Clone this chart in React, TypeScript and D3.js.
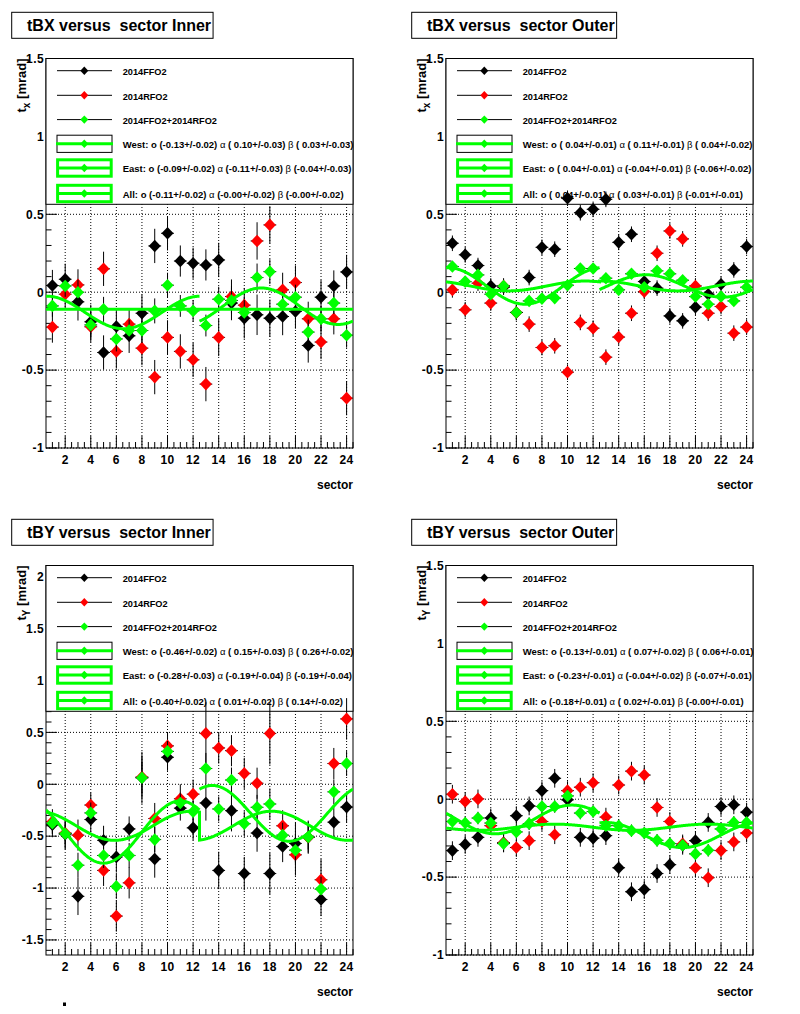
import React, { useMemo } from 'react'
import * as d3 from 'd3'

// sector numbers along the x axis
const sectors = [1, 2, 3, 4, 5, 6, 7, 8, 9, 10, 11, 12, 13, 14, 15, 16, 17, 18, 19, 20, 21, 22, 23, 24]

const seriesNames = ['2014FFO2', '2014RFO2', '2014FFO2+2014RFO2']

// ---- tBX Inner ----
const innerX_ffo = [0.043, 0.083, -0.062, -0.19, -0.387, -0.22, -0.28, -0.135, 0.297, 0.378, 0.2, 0.186, 0.175, 0.207, -0.07, -0.167, -0.145, -0.167, -0.156, -0.124, -0.342, -0.032, 0.04, 0.13]
const innerX_rfo = [-0.224, -0.013, 0.047, -0.222, 0.15, -0.38, -0.205, -0.359, -0.545, -0.29, -0.38, -0.434, -0.59, -0.29, -0.028, -0.083, 0.329, 0.432, 0.015, 0.062, -0.171, -0.32, -0.171, -0.68]
const innerX_sum = [-0.088, 0.04, 0.0, -0.21, -0.11, -0.3, -0.246, -0.246, -0.12, 0.045, -0.088, -0.12, -0.214, -0.045, -0.053, -0.13, 0.094, 0.132, -0.077, -0.032, -0.256, -0.171, -0.07, -0.276]
const innerX_ffoErr = [0.1, 0.1, 0.12, 0.11, 0.11, 0.11, 0.11, 0.12, 0.11, 0.11, 0.1, 0.1, 0.1, 0.11, 0.11, 0.13, 0.13, 0.12, 0.12, 0.11, 0.11, 0.11, 0.1, 0.11]
const innerX_rfoErr = [0.1, 0.1, 0.1, 0.1, 0.11, 0.11, 0.1, 0.11, 0.11, 0.11, 0.11, 0.11, 0.11, 0.12, 0.11, 0.11, 0.12, 0.12, 0.11, 0.11, 0.11, 0.11, 0.1, 0.11]
const innerX_sumErr = [0.07, 0.07, 0.08, 0.07, 0.08, 0.08, 0.07, 0.08, 0.08, 0.08, 0.07, 0.07, 0.07, 0.08, 0.08, 0.08, 0.09, 0.08, 0.08, 0.08, 0.08, 0.08, 0.07, 0.08]
// fit parameters [o, alpha, beta] and their errors (from the legend)
const innerX_west = [-0.13, 0.10, 0.03]
const innerX_westErr = [0.02, 0.03, 0.03]
const innerX_east = [-0.09, -0.11, -0.04]
const innerX_eastErr = [0.02, 0.03, 0.03]
const innerX_all = [-0.11, -0, -0]
const innerX_allErr = [0.02, 0.02, 0.02]

// ---- tBX Outer ----
const outerX_ffo = [0.314, 0.24, 0.171, 0.04, 0.032, -0.13, 0.094, 0.288, 0.276, 0.603, 0.51, 0.532, 0.596, 0.32, 0.372, 0.068, 0.026, -0.152, -0.184, -0.096, -0.013, 0.051, 0.143, 0.293]
const outerX_rfo = [0.015, -0.113, 0.058, -0.07, 0.04, -0.13, -0.205, -0.355, -0.344, -0.513, -0.194, -0.231, -0.417, -0.288, -0.135, 0.004, 0.25, 0.393, 0.342, 0.04, -0.135, -0.092, -0.263, -0.224]
const outerX_sum = [0.165, 0.068, 0.111, -0.013, 0.04, -0.13, -0.056, -0.041, -0.038, 0.045, 0.152, 0.152, 0.09, 0.015, 0.118, 0.032, 0.137, 0.118, 0.077, -0.028, -0.077, -0.028, -0.056, 0.032]
const outerX_ffoErr = [0.05, 0.05, 0.05, 0.05, 0.05, 0.05, 0.05, 0.05, 0.05, 0.05, 0.05, 0.05, 0.05, 0.05, 0.05, 0.05, 0.05, 0.05, 0.05, 0.05, 0.05, 0.05, 0.05, 0.05]
const outerX_rfoErr = [0.05, 0.05, 0.05, 0.05, 0.05, 0.05, 0.05, 0.05, 0.05, 0.05, 0.05, 0.05, 0.05, 0.05, 0.05, 0.05, 0.05, 0.05, 0.05, 0.05, 0.05, 0.05, 0.05, 0.05]
const outerX_sumErr = [0.03, 0.03, 0.03, 0.03, 0.03, 0.03, 0.03, 0.03, 0.03, 0.03, 0.03, 0.03, 0.03, 0.03, 0.03, 0.03, 0.03, 0.03, 0.03, 0.03, 0.03, 0.03, 0.03, 0.03]
const outerX_west = [0.04, 0.11, 0.04]
const outerX_westErr = [0.01, 0.01, 0.02]
const outerX_east = [0.04, -0.04, -0.06]
const outerX_eastErr = [0.01, 0.01, 0.02]
const outerX_all = [0.04, 0.03, -0.01]
const outerX_allErr = [0.01, 0.01, 0.01]

// ---- tBY Inner ----
const innerY_ffo = [-0.39, -0.48, -1.08, -0.34, -0.54, -0.7, -0.43, 0.063, -0.72, 0.26, -0.23, -0.42, -0.18, -0.83, -0.254, -0.86, -0.47, -0.86, -0.6, -0.57, -0.51, -1.11, -0.365, -0.22]
const innerY_rfo = [-0.36, -0.47, -0.49, -0.2, -0.83, -1.27, -0.95, 0.07, -0.33, 0.37, -0.14, -0.095, 0.49, 0.35, 0.324, 0.105, 0.01, 0.49, -0.4, -0.68, -0.51, -0.92, 0.2, 0.63]
const innerY_sum = [-0.375, -0.476, -0.78, -0.276, -0.686, -0.984, -0.686, 0.063, -0.533, 0.317, -0.18, -0.264, 0.152, -0.238, 0.041, -0.38, -0.222, -0.19, -0.49, -0.635, -0.508, -1.01, -0.073, 0.2]
const innerY_ffoErr = [0.12, 0.15, 0.18, 0.12, 0.14, 0.15, 0.12, 0.25, 0.18, 0.13, 0.12, 0.12, 0.17, 0.18, 0.2, 0.16, 0.18, 0.2, 0.15, 0.2, 0.16, 0.16, 0.15, 0.15]
const innerY_rfoErr = [0.12, 0.15, 0.15, 0.12, 0.15, 0.15, 0.15, 0.2, 0.15, 0.13, 0.14, 0.14, 0.3, 0.15, 0.15, 0.15, 0.15, 0.3, 0.15, 0.2, 0.15, 0.2, 0.15, 0.2]
const innerY_sumErr = [0.1, 0.1, 0.12, 0.1, 0.12, 0.12, 0.12, 0.15, 0.12, 0.1, 0.1, 0.1, 0.15, 0.12, 0.12, 0.12, 0.12, 0.15, 0.12, 0.12, 0.12, 0.12, 0.12, 0.12]
const innerY_west = [-0.46, 0.15, 0.26]
const innerY_westErr = [0.02, 0.03, 0.02]
const innerY_east = [-0.28, -0.19, -0.19]
const innerY_eastErr = [0.03, 0.04, 0.04]
const innerY_all = [-0.40, 0.01, 0.14]
const innerY_allErr = [0.02, 0.02, 0.02]

// ---- tBY Outer ----
const outerY_ffo = [-0.33, -0.29, -0.245, -0.12, -0.28, -0.106, -0.043, 0.055, 0.134, -0.004, -0.245, -0.25, -0.234, -0.44, -0.594, -0.58, -0.477, -0.42, -0.296, -0.266, -0.149, -0.047, -0.036, -0.083]
const outerY_rfo = [0.032, -0.015, 0.002, -0.17, -0.28, -0.31, -0.266, -0.143, -0.228, 0.055, 0.077, 0.106, -0.115, 0.091, 0.18, 0.155, -0.053, -0.143, -0.287, -0.44, -0.504, -0.33, -0.274, -0.217]
const outerY_sum = [-0.143, -0.153, -0.121, -0.153, -0.285, -0.21, -0.157, -0.047, -0.047, 0.021, -0.089, -0.079, -0.17, -0.17, -0.202, -0.217, -0.264, -0.285, -0.296, -0.351, -0.328, -0.191, -0.149, -0.149]
const outerY_ffoErr = [0.06, 0.06, 0.06, 0.06, 0.06, 0.06, 0.06, 0.06, 0.06, 0.06, 0.06, 0.06, 0.06, 0.06, 0.06, 0.06, 0.06, 0.06, 0.06, 0.06, 0.06, 0.06, 0.06, 0.06]
const outerY_rfoErr = [0.06, 0.06, 0.06, 0.06, 0.06, 0.06, 0.06, 0.06, 0.06, 0.06, 0.06, 0.06, 0.06, 0.06, 0.06, 0.06, 0.06, 0.06, 0.06, 0.06, 0.06, 0.06, 0.06, 0.06]
const outerY_sumErr = [0.04, 0.04, 0.04, 0.04, 0.04, 0.04, 0.04, 0.04, 0.04, 0.04, 0.04, 0.04, 0.04, 0.04, 0.04, 0.04, 0.04, 0.04, 0.04, 0.04, 0.04, 0.04, 0.04, 0.04]
const outerY_west = [-0.13, 0.07, 0.06]
const outerY_westErr = [0.01, 0.02, 0.01]
const outerY_east = [-0.23, -0.04, -0.07]
const outerY_eastErr = [0.01, 0.02, 0.01]
const outerY_all = [-0.18, 0.02, -0]
const outerY_allErr = [0.01, 0.01, 0.01]

const FONT = "'Liberation Sans', Arial, Helvetica, sans-serif"
const GREEN = '#00ff00'
const RED = '#ff0000'

// frame inside a 400x507 pad
const FL = 46
const FR = 353
const FT = 58.5
const FB = 448

interface PanelProps {
  id: string
  x0: number
  y0: number
  title: string
  sub: string
  yDomain: [number, number]
  ffo: number[]
  rfo: number[]
  sum: number[]
  ffoErr: number[]
  rfoErr: number[]
  sumErr: number[]
  west: number[]
  westErr: number[]
  east: number[]
  eastErr: number[]
  all: number[]
  allErr: number[]
  phase: number
}

const fmt = (v: number, e: number) => {
  const neg = v < 0 || Object.is(v, -0)
  return `(${neg ? '-' : ' '}${Math.abs(v).toFixed(2)}+/-${e.toFixed(2)})`
}

// fitted function o + a cos(psi) + b sin(psi), psi follows the sector angle
const fitAt = (x: number, p: number[], side: 'W' | 'E', phase: number) => {
  const deg = side === 'W' ? 30 * x + phase : -30 * x - phase
  const r = (deg * Math.PI) / 180
  return p[0] + p[1] * Math.cos(r) + p[2] * Math.sin(r)
}

const measure = (text: string, font: string) => {
  const c = document.createElement('canvas').getContext('2d')
  if (!c) return text.length * 8
  c.font = font
  return c.measureText(text).width
}

const diamond = (x: number, y: number, w: number, h: number) =>
  `M${x},${y - h}L${x + w},${y}L${x},${y + h}L${x - w},${y}Z`

const Panel: React.FC<PanelProps> = (p) => {
  const x = d3.scaleLinear().domain([0.5, 24.5]).range([FL, FR])
  const y = d3.scaleLinear().domain(p.yDomain).range([FB, FT])

  const titleW = useMemo(() => measure(p.title, `bold 16px ${FONT}`), [p.title])

  const yMajor = d3.range(Math.ceil(p.yDomain[0] * 2) / 2, p.yDomain[1] + 1e-6, 0.5)
  const yMinor = d3.range(Math.ceil(p.yDomain[0] * 10 - 1e-6) / 10, p.yDomain[1] + 1e-6, 0.1)
  const xMajor = d3.range(2, 25, 2)
  const xMinor = d3.range(1, 24.6, 0.5)

  const line = d3.line<[number, number]>().x(d => x(d[0])).y(d => y(d[1]))
  const westPts = d3.range(0.5, 12.5001, 0.05).map(v => [v, fitAt(v, p.west, 'W', p.phase)] as [number, number])
  const eastPts = d3.range(12.5, 24.5001, 0.05).map(v => [v, fitAt(v, p.east, 'E', p.phase)] as [number, number])
  const allPts = [
    ...d3.range(0.5, 12.5001, 0.05).map(v => [v, fitAt(v, p.all, 'W', p.phase)] as [number, number]),
    ...d3.range(12.5, 24.5001, 0.05).map(v => [v, fitAt(v, p.all, 'E', p.phase)] as [number, number])
  ]

  const graphs = [
    { vals: p.ffo, errs: p.ffoErr, color: '#000000' },
    { vals: p.rfo, errs: p.rfoErr, color: RED },
    { vals: p.sum, errs: p.sumErr, color: GREEN }
  ]

  const rowY = [70.7, 95.3, 119.6, 143.8, 168, 193.5]
  const fitRows = [
    { label: 'West', v: p.west, e: p.westErr },
    { label: 'East', v: p.east, e: p.eastErr },
    { label: 'All', v: p.all, e: p.allErr }
  ]
  const lab = (v: number) => String(Math.round(v * 10) / 10)

  return (
    <g transform={`translate(${p.x0},${p.y0})`} fontFamily={FONT}>
      <defs>
        <clipPath id={`clip-${p.id}`}>
          <rect x={FL} y={FT} width={FR - FL} height={FB - FT} />
        </clipPath>
      </defs>
      {/* title box */}
      <rect x={11.7} y={12.3} width={27 - 11.7 + titleW + 2} height={26} fill="#fff" stroke="#000" strokeWidth={1} />
      <text x={27} y={30.5} fontSize={16} fontWeight="bold" style={{ whiteSpace: 'pre' }}>{p.title}</text>

      {/* frame background and grid */}
      <rect x={FL} y={FT} width={FR - FL} height={FB - FT} fill="#fff" />
      {xMajor.map(v => (
        <line key={`gx${v}`} x1={x(v)} x2={x(v)} y1={FB} y2={FT} stroke="#000" strokeDasharray="1 2" strokeWidth={1} />
      ))}
      {yMajor.map(v => (
        <line key={`gy${v}`} x1={FL} x2={FR} y1={y(v)} y2={y(v)} stroke="#000" strokeDasharray="1 2" strokeWidth={1} />
      ))}
      {/* ticks */}
      {xMinor.map(v => (
        <line key={`tx${v}`} x1={x(v)} x2={x(v)} y1={FB} y2={FB - (v % 2 === 0 ? 12 : 6)} stroke="#000" />
      ))}
      {yMinor.map(v => {
        const major = Math.abs(v * 2 - Math.round(v * 2)) < 1e-6
        return <line key={`ty${v}`} x1={FL} x2={FL + (major ? 11 : 5.5)} y1={y(v)} y2={y(v)} stroke="#000" />
      })}
      <rect x={FL} y={FT} width={FR - FL} height={FB - FT} fill="none" stroke="#000" strokeWidth={1} />

      {/* tick labels */}
      {xMajor.map(v => (
        <text key={`lx${v}`} x={x(v)} y={FB + 16} fontSize={12} fontWeight="bold" textAnchor="middle" letterSpacing={0.4}>{v}</text>
      ))}
      {yMajor.map(v => (
        <text key={`ly${v}`} x={44} y={y(v) + 4.3} fontSize={12} fontWeight="bold" textAnchor="end" letterSpacing={0.4}>{lab(v)}</text>
      ))}
      <text x={FR} y={489} fontSize={12} fontWeight="bold" textAnchor="end">sector</text>
      <text transform={`translate(25.5,${FT}) rotate(-90)`} fontSize={13} fontWeight="bold" textAnchor="end" style={{ whiteSpace: 'pre' }}>
        t<tspan dy={4.5} fontSize={10}>{p.sub}</tspan><tspan dy={-4.5}> [mrad]</tspan>
      </text>

      {/* legend */}
      <rect x={FL} y={FT} width={FR - FL} height={204.3 - FT} fill="#fff" stroke="#000" strokeWidth={1} />
      {seriesNames.map((name, i) => (
        <g key={name}>
          <line x1={57} x2={112} y1={rowY[i]} y2={rowY[i]} stroke="#000" />
          <path d={diamond(84.3, rowY[i], 4, 4.2)} fill={graphs[i].color} />
          <text x={122.7} y={rowY[i] + 4.4} fontSize={9.2} fontWeight="bold">{name}</text>
        </g>
      ))}
      {fitRows.map((r, i) => {
        const cy = rowY[3 + i]
        return (
          <g key={r.label}>
            {i === 0 ? (
              <>
                <rect x={57} y={cy - 8.6} width={55} height={17.2} fill="none" stroke="#000" />
                <line x1={56} x2={113} y1={cy} y2={cy} stroke={GREEN} strokeWidth={3} />
              </>
            ) : (
              <>
                <rect x={57.6} y={cy - 8.2} width={53.6} height={16.4} fill="none" stroke={GREEN} strokeWidth={3} />
                <line x1={57.6} x2={111.2} y1={cy} y2={cy} stroke={GREEN} strokeWidth={3} />
              </>
            )}
            <path d={diamond(84.3, cy, 4, 4.2)} fill={GREEN} />
            <text x={122.7} y={cy + 4.4} fontSize={9.5} fontWeight="bold" style={{ whiteSpace: 'pre' }}>
              {`${r.label}: o ${fmt(r.v[0], r.e[0])} `}
              <tspan fontWeight="normal">α</tspan>
              {` ${fmt(r.v[1], r.e[1])} `}
              <tspan fontWeight="normal">β</tspan>
              {` ${fmt(r.v[2], r.e[2])}`}
            </text>
          </g>
        )
      })}

      {/* graphs with error bars */}
      <g clipPath={`url(#clip-${p.id})`}>
        {graphs.map((g, gi) => (
          <g key={gi}>
            {sectors.map((s, i) => (
              <g key={s}>
                <line x1={x(s)} x2={x(s)} y1={y(g.vals[i] - g.errs[i])} y2={y(g.vals[i] + g.errs[i])} stroke="#000" />
                <line x1={x(s - 0.5)} x2={x(s + 0.5)} y1={y(g.vals[i])} y2={y(g.vals[i])} stroke="#000" />
                <path d={diamond(x(s), y(g.vals[i]), 6, 6.3)} fill={g.color} />
              </g>
            ))}
          </g>
        ))}
        <path d={line(westPts) || ''} fill="none" stroke={GREEN} strokeWidth={3} />
        <path d={line(eastPts) || ''} fill="none" stroke={GREEN} strokeWidth={3} />
        <path d={line(allPts) || ''} fill="none" stroke={GREEN} strokeWidth={3} />
      </g>
    </g>
  )
}

const App: React.FC = () => {
  return (
    <svg width={800} height={1014} style={{ position: 'absolute', left: 0, top: 0, background: '#fff' }}>
      <rect width={800} height={1014} fill="#fff" />
      <Panel id="p1" x0={0} y0={0} title="tBX versus  sector Inner" sub="x" yDomain={[-1, 1.5]}
        ffo={innerX_ffo} rfo={innerX_rfo} sum={innerX_sum}
        ffoErr={innerX_ffoErr} rfoErr={innerX_rfoErr} sumErr={innerX_sumErr}
        west={innerX_west} westErr={innerX_westErr} east={innerX_east} eastErr={innerX_eastErr}
        all={innerX_all} allErr={innerX_allErr} phase={0} />
      <Panel id="p2" x0={400} y0={0} title="tBX versus  sector Outer" sub="x" yDomain={[-1, 1.5]}
        ffo={outerX_ffo} rfo={outerX_rfo} sum={outerX_sum}
        ffoErr={outerX_ffoErr} rfoErr={outerX_rfoErr} sumErr={outerX_sumErr}
        west={outerX_west} westErr={outerX_westErr} east={outerX_east} eastErr={outerX_eastErr}
        all={outerX_all} allErr={outerX_allErr} phase={0} />
      <Panel id="p3" x0={0} y0={507} title="tBY versus  sector Inner" sub="Y" yDomain={[-1.645, 2.108]}
        ffo={innerY_ffo} rfo={innerY_rfo} sum={innerY_sum}
        ffoErr={innerY_ffoErr} rfoErr={innerY_rfoErr} sumErr={innerY_sumErr}
        west={innerY_west} westErr={innerY_westErr} east={innerY_east} eastErr={innerY_eastErr}
        all={innerY_all} allErr={innerY_allErr} phase={90} />
      <Panel id="p4" x0={400} y0={507} title="tBY versus  sector Outer" sub="Y" yDomain={[-1, 1.5]}
        ffo={outerY_ffo} rfo={outerY_rfo} sum={outerY_sum}
        ffoErr={outerY_ffoErr} rfoErr={outerY_rfoErr} sumErr={outerY_sumErr}
        west={outerY_west} westErr={outerY_westErr} east={outerY_east} eastErr={outerY_eastErr}
        all={outerY_all} allErr={outerY_allErr} phase={90} />
      <rect x={63} y={1002.5} width={3} height={3.5} fill="#000" />
    </svg>
  )
}

export default App
